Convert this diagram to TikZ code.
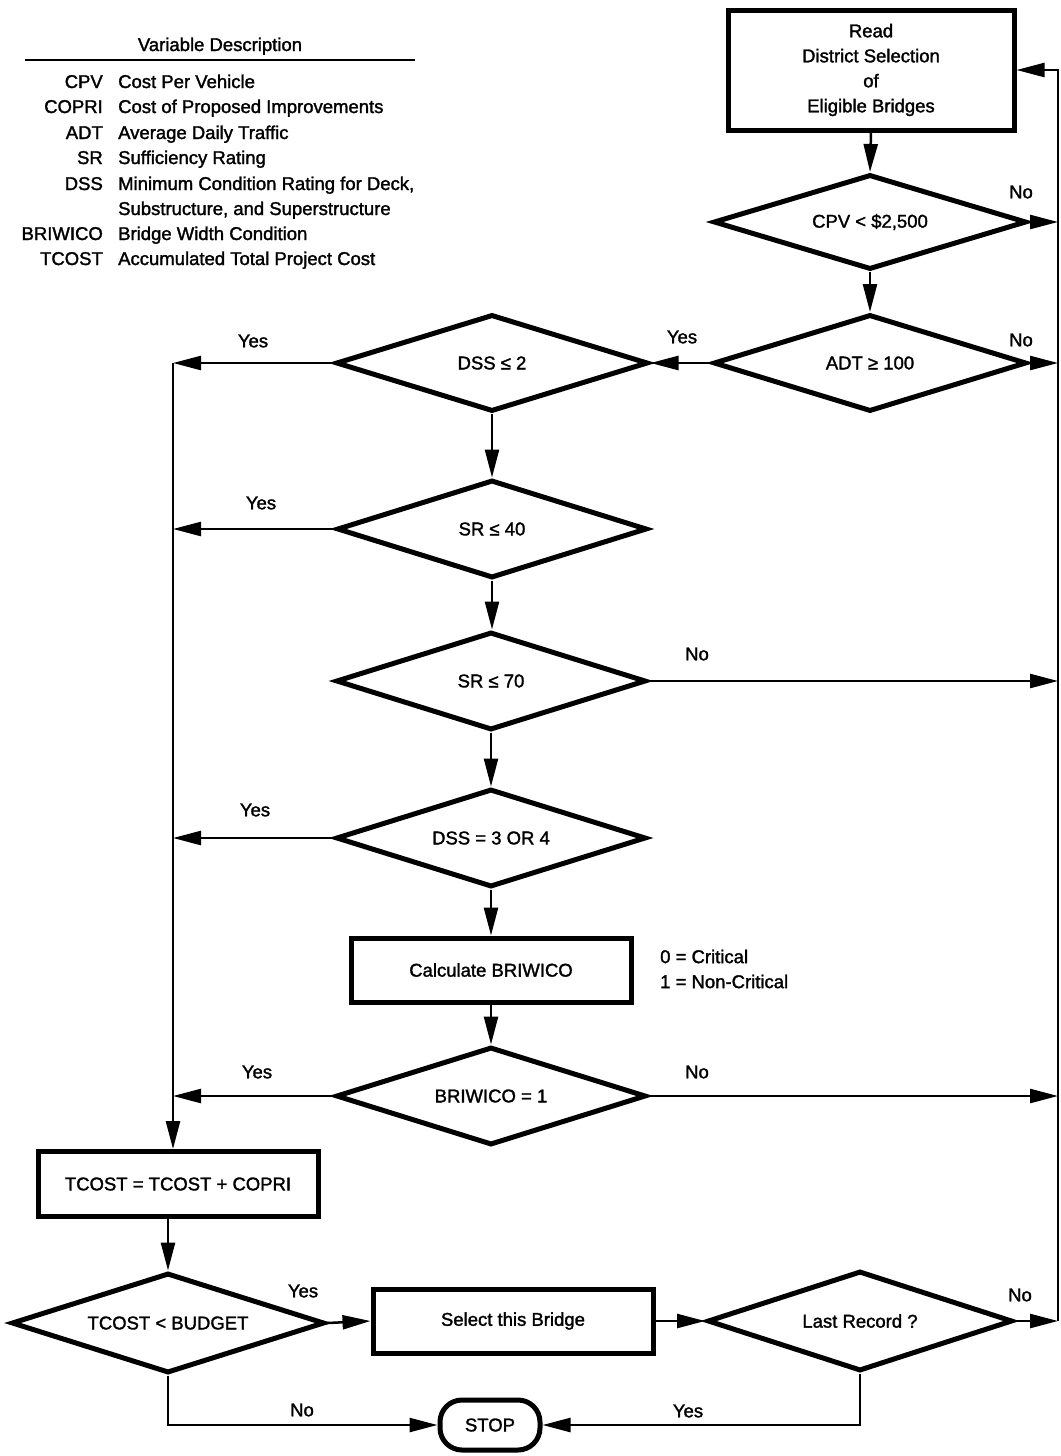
\documentclass[tikz,border=0pt]{standalone}
\usepackage{fontspec}
\setmainfont{Liberation Sans}[UprightFeatures={FakeBold=1.6}]
\usetikzlibrary{shapes.geometric,arrows.meta}
\newcommand\dfont{\fontsize{18.5}{25}\selectfont}
\begin{document}
\begin{tikzpicture}[x=1pt,y=-1pt,
  box/.style={draw, line width=5pt, inner sep=0pt, font=\dfont, align=center},
  dia/.style={draw, diamond, aspect=3, line width=5pt, inner sep=0pt, font=\dfont},
  conn/.style={line width=2.5pt, -{Triangle[length=28pt,width=14pt]}},
  plain/.style={line width=2.5pt},
  lbl/.style={font=\dfont, inner sep=0pt},
  abbr/.style={font=\dfont, inner sep=0pt, anchor=base east},
  desc/.style={font=\dfont, inner sep=0pt, anchor=base west}]
\useasboundingbox (0,0) rectangle (1060,1456);

% legend
\node[lbl, anchor=base] (lt) at (220,51) {Variable Description};
\coordinate (ll) at (25,60);
\coordinate (lr) at (415,60);
\draw[plain] (ll) -- (lr);
\node[abbr] (a1) at (103,88) {CPV};      \node[desc] (d1) at (118,88) {Cost Per Vehicle};
\node[abbr] (a2) at (103,113) {COPRI};   \node[desc] (d2) at (118,113) {Cost of Proposed Improvements};
\node[abbr] (a3) at (103,139) {ADT};     \node[desc] (d3) at (118,139) {Average Daily Traffic};
\node[abbr] (a4) at (103,164) {SR};      \node[desc] (d4) at (118,164) {Sufficiency Rating};
\node[abbr] (a5) at (103,190) {DSS};     \node[desc] (d5) at (118,190) {Minimum Condition Rating for Deck,};
\node[desc] (d6) at (118,215) {Substructure, and Superstructure};
\node[abbr] (a7) at (103,240) {BRIWICO}; \node[desc] (d7) at (118,240) {Bridge Width Condition};
\node[abbr] (a8) at (103,265) {TCOST};   \node[desc] (d8) at (118,265) {Accumulated Total Project Cost};

% nodes
\node[box, minimum width=286pt, minimum height=120pt] (read) at (871,70)
  {Read\\District Selection\\of\\Eligible Bridges};
\node[dia, minimum width=313pt, minimum height=95pt] (cpv) at (870,222) {CPV < \$2,500};
\node[dia, minimum width=313pt, minimum height=97pt] (adt) at (870,363) {ADT ≥ 100};
\node[dia, minimum width=312pt, minimum height=97pt] (dss2) at (492,363) {DSS ≤ 2};
\node[dia, minimum width=310pt, minimum height=98pt] (sr40) at (492,529) {SR ≤ 40};
\node[dia, minimum width=310pt, minimum height=98pt] (sr70) at (491,681) {SR ≤ 70};
\node[dia, minimum width=310pt, minimum height=98pt] (dss34) at (491,838) {DSS = 3 OR 4};
\node[box, minimum width=280pt, minimum height=64pt] (calc) at (491,970) {Calculate BRIWICO};
\node[lbl, anchor=west, align=left] (crit) at (660,969) {0 = Critical\\1 = Non-Critical};
\node[dia, minimum width=310pt, minimum height=98pt] (briw) at (491,1096) {BRIWICO = 1};
\node[box, minimum width=280pt, minimum height=65pt] (tcost) at (178,1184) {TCOST = TCOST + COPRI};
\node[dia, minimum width=313pt, minimum height=100pt] (budget) at (168,1323) {TCOST < BUDGET};
\node[box, minimum width=280pt, minimum height=64pt] (select) at (513,1321) {Select this Bridge};
\node[dia, minimum width=305pt, minimum height=100pt] (last) at (860,1321) {Last Record ?};
\node[box, rounded corners=22pt, minimum width=100pt, minimum height=50pt] (stop) at (490,1425) {STOP};

% coordinates on the side lines
\coordinate (rt) at (1058,70);
\coordinate (rcpv) at (1058,222);
\coordinate (radt) at (1058,363);
\coordinate (rsr70) at (1058,681);
\coordinate (rbriw) at (1058,1096);
\coordinate (rb) at (1058,1321);
\coordinate (ltop) at (173,363);
\coordinate (lsr40) at (173,529);
\coordinate (ldss34) at (173,838);
\coordinate (lbriw) at (173,1096);

% connectors
\draw[conn] (read.south) -- (cpv.north);
\draw[conn] (cpv.south) -- (adt.north);
\draw[conn] (cpv.east) -- (rcpv);
\draw[conn] (adt.east) -- (radt);
\draw[conn] (adt.west) -- (dss2.east);
\draw[conn] (dss2.west) -- (ltop);
\draw[conn] (dss2.south) -- (sr40.north);
\draw[conn] (sr40.west) -- (lsr40);
\draw[conn] (sr40.south) -- (sr40.south |- sr70.north);
\draw[conn] (sr70.east) -- (rsr70);
\draw[conn] (sr70.south) -- (dss34.north);
\draw[conn] (dss34.west) -- (ldss34);
\draw[conn] (dss34.south) -- (calc.north);
\draw[conn] (calc.south) -- (briw.north);
\draw[conn] (briw.west) -- (lbriw);
\draw[conn] (briw.east) -- (rbriw);
\draw[conn] (ltop) -- (ltop |- tcost.north);
\draw[conn] (budget.north |- tcost.south) -- (budget.north);
\draw[conn] (budget.east) -- (select.west);
\draw[conn] (select.east) -- (last.west);
\draw[conn] (last.east) -- (rb);
\draw[conn] (rb) -- (rt) -- (read.east);
\draw[conn] (budget.south) |- (stop.west);
\draw[conn] (last.south) |- (stop.east);

% labels
\node[lbl] (n1) at (1021,192) {No};
\node[lbl] (n2) at (1021,340) {No};
\node[lbl] (n3) at (697,654) {No};
\node[lbl] (n4) at (697,1072) {No};
\node[lbl] (n5) at (1020,1295) {No};
\node[lbl] (n6) at (302,1410) {No};
\node[lbl] (y1) at (682,337) {Yes};
\node[lbl] (y2) at (253,341) {Yes};
\node[lbl] (y3) at (261,503) {Yes};
\node[lbl] (y4) at (255,810) {Yes};
\node[lbl] (y5) at (257,1072) {Yes};
\node[lbl] (y6) at (303,1291) {Yes};
\node[lbl] (y7) at (688,1411) {Yes};
\end{tikzpicture}
\end{document}
